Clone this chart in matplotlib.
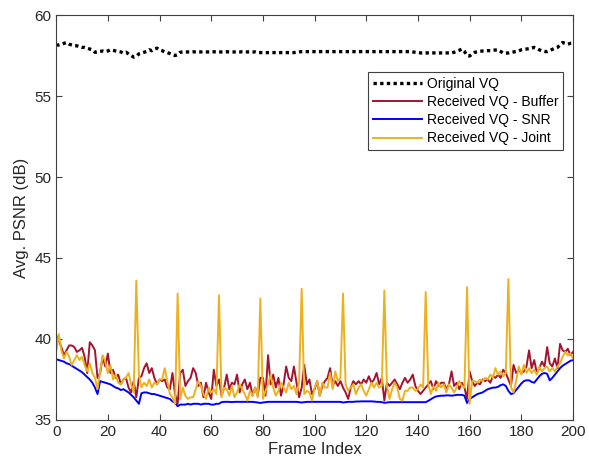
import numpy as np
import matplotlib
matplotlib.use("Agg")
import matplotlib.pyplot as plt

plt.rcParams['font.family'] = ['Liberation Sans', 'DejaVu Sans']

frames = np.arange(0, 201)

original_vq = [
    58.15, 58.15, 58.2, 58.25, 58.3, 58.2, 58.15, 58.1, 58.1, 58.05,
    58.0, 58.0, 57.95, 57.9, 57.85, 57.7, 57.72, 57.75, 57.78, 57.75,
    57.78, 57.85, 57.82, 57.78, 57.75, 57.72, 57.65, 57.7, 57.6, 57.5,
    57.4, 57.45, 57.6, 57.65, 57.7, 57.75, 57.85, 57.8, 57.9, 57.95,
    57.85, 57.8, 57.72, 57.68, 57.62, 57.55, 57.5, 57.55, 57.7, 57.72,
    57.72, 57.72, 57.72, 57.73, 57.72, 57.72, 57.72, 57.73, 57.72, 57.72,
    57.72, 57.73, 57.72, 57.72, 57.72, 57.72, 57.73, 57.72, 57.72, 57.72,
    57.72, 57.72, 57.73, 57.72, 57.72, 57.72, 57.72, 57.72, 57.68, 57.68,
    57.68, 57.67, 57.68, 57.68, 57.68, 57.68, 57.67, 57.68, 57.68, 57.68,
    57.68, 57.68, 57.68, 57.7, 57.72, 57.74, 57.74, 57.74, 57.74, 57.74,
    57.74, 57.74, 57.74, 57.74, 57.74, 57.74, 57.74, 57.74, 57.74, 57.74,
    57.74, 57.74, 57.74, 57.74, 57.74, 57.74, 57.74, 57.74, 57.74, 57.74,
    57.74, 57.74, 57.74, 57.74, 57.74, 57.74, 57.74, 57.74, 57.74, 57.74,
    57.74, 57.74, 57.74, 57.74, 57.74, 57.74, 57.74, 57.74, 57.72, 57.7,
    57.68, 57.66, 57.66, 57.66, 57.66, 57.66, 57.66, 57.66, 57.66, 57.66,
    57.66, 57.66, 57.66, 57.66, 57.7, 57.75, 57.82, 57.9, 57.75, 57.5,
    57.47, 57.6, 57.7, 57.72, 57.75, 57.78, 57.78, 57.8, 57.8, 57.82,
    57.84, 57.85, 57.75, 57.65, 57.64, 57.66, 57.7, 57.72, 57.75, 57.78,
    57.85, 57.88, 57.9, 57.92, 57.96, 58.0, 57.95, 57.85, 57.78, 57.75,
    57.74, 57.8, 57.88, 57.95, 58.0, 58.15, 58.3, 58.25, 58.2, 58.25,
    58.25,
]

received_buffer = [
    40.2, 39.9, 39.5, 39.0, 39.3, 39.6, 39.6, 39.5, 39.2, 39.3,
    39.45, 38.9, 37.9, 39.8, 39.6, 39.3, 37.6, 37.9, 38.9, 38.3,
    39.1, 37.9, 38.1, 37.6, 37.8, 37.2, 37.5, 37.6, 37.0, 36.7,
    37.4, 36.4, 37.6, 37.7, 38.2, 38.5, 37.9, 38.2, 37.6, 37.2,
    37.5, 37.4, 37.5, 37.0, 36.9, 37.9, 36.6, 36.0, 37.9, 38.1,
    37.1, 37.4, 37.6, 38.2, 37.9, 37.1, 37.3, 36.4, 37.3, 36.7,
    36.3, 38.1, 37.1, 37.5, 36.5, 37.0, 37.8, 36.9, 37.3, 37.2,
    37.8, 36.7, 37.2, 37.5, 36.9, 37.3, 36.5, 37.0, 36.5, 37.6,
    37.6, 36.5, 39.0, 37.2, 37.8, 37.0, 37.6, 36.5, 37.2, 38.3,
    37.6, 37.4, 38.3, 37.3, 36.4, 37.0, 38.4, 37.2, 37.5, 36.6,
    36.9, 37.4, 36.5, 37.1, 37.4, 37.6, 38.2, 37.1, 37.4, 37.1,
    37.4, 37.0, 36.7, 36.3, 37.0, 37.4, 37.2, 37.4, 37.2, 37.5,
    37.3, 37.7, 37.3, 37.5, 37.9, 37.2, 37.6, 36.2, 37.3, 37.1,
    37.3, 37.5, 37.2, 36.9, 37.3, 37.6, 37.3, 37.5, 37.8, 37.1,
    36.8, 36.6, 36.8, 37.0, 37.2, 37.4, 36.9, 37.4, 37.1, 37.3,
    37.3, 36.9, 37.2, 38.0, 37.1, 37.3, 36.9, 37.3, 37.0, 36.3,
    38.0, 37.4, 37.1, 37.3, 37.2, 37.5, 37.4, 37.5, 37.3, 37.7,
    37.6, 37.8, 37.6, 38.1, 37.9, 37.5, 37.1, 38.4, 37.9, 38.1,
    37.9, 38.0, 38.3, 39.3, 38.2, 38.7, 37.9, 38.2, 38.6, 38.3,
    39.5, 38.5, 38.3, 38.8, 38.2, 39.7, 39.3, 39.2, 39.4, 39.0,
    39.2,
]

received_snr = [
    38.75, 38.7, 38.65, 38.6, 38.5, 38.45, 38.35, 38.25, 38.15, 38.05,
    37.95, 37.8, 37.65, 37.5, 37.3, 37.0, 36.6, 37.4, 37.35, 37.3,
    37.25, 37.2, 37.1, 37.0, 36.95, 36.85, 36.9, 36.8, 36.7, 36.55,
    36.4, 36.2, 36.0, 36.65, 36.7, 36.7, 36.65, 36.6, 36.6, 36.55,
    36.5, 36.45, 36.4, 36.35, 36.3, 36.15, 36.05, 35.85, 35.95, 35.95,
    35.95, 36.0, 35.95, 36.0, 36.0, 36.0, 35.95, 36.0, 36.0, 36.0,
    35.95, 35.95, 36.0, 36.0, 36.1, 36.12, 36.12, 36.12, 36.1, 36.12,
    36.12, 36.12, 36.12, 36.12, 36.12, 36.12, 36.12, 36.1, 36.08, 36.05,
    36.08, 36.1, 36.12, 36.12, 36.12, 36.12, 36.12, 36.12, 36.12, 36.12,
    36.12, 36.12, 36.12, 36.12, 36.1, 36.08, 36.1, 36.12, 36.12, 36.12,
    36.12, 36.12, 36.12, 36.12, 36.12, 36.12, 36.12, 36.12, 36.12, 36.12,
    36.12, 36.08, 36.1, 36.12, 36.12, 36.12, 36.14, 36.14, 36.15, 36.15,
    36.15, 36.15, 36.15, 36.14, 36.12, 36.12, 36.1, 36.06, 36.08, 36.1,
    36.1, 36.1, 36.1, 36.1, 36.1, 36.1, 36.1, 36.1, 36.1, 36.1,
    36.1, 36.1, 36.1, 36.1, 36.18, 36.28, 36.38, 36.45, 36.48, 36.5,
    36.5, 36.52, 36.52, 36.5, 36.52, 36.55, 36.55, 36.55, 36.5, 36.05,
    36.3, 36.4, 36.5, 36.6, 36.65, 36.7, 36.8, 36.9, 36.95, 37.0,
    37.0, 37.05, 37.15, 37.2, 37.1, 36.8, 36.6, 36.65, 36.85, 37.05,
    37.25, 37.4, 37.45, 37.45, 37.35, 37.3, 37.5, 37.7, 37.85, 37.9,
    37.85, 37.45, 37.6, 37.8, 38.0, 38.2, 38.35, 38.45, 38.55, 38.65,
    38.7,
]

received_joint = [
    39.2, 40.3, 39.3, 38.8, 39.2, 38.9, 38.4, 38.7, 39.0, 38.7,
    38.9, 38.4, 38.0, 38.5, 37.9, 37.6, 36.9, 38.0, 39.0, 38.6,
    37.9, 38.4, 37.5, 37.8, 37.3, 37.2, 37.5, 37.6, 37.9, 37.2,
    36.7, 43.6, 37.8, 37.0, 37.3, 37.1, 37.5, 37.0, 37.3, 37.2,
    37.5, 37.5, 38.2, 37.4, 36.6, 36.4, 36.0, 42.8, 36.3, 37.0,
    36.5, 36.3, 36.4, 36.4, 36.9, 37.4, 37.1, 36.6, 36.3, 37.0,
    36.7, 36.9, 36.6, 42.7, 36.4, 37.0, 36.9, 36.5, 37.1, 36.4,
    36.7, 37.2, 36.9, 36.6, 36.2, 36.8, 36.5, 37.0, 36.4, 42.5,
    36.3, 36.8, 37.2, 37.8, 37.0, 36.5, 36.8, 37.3, 37.0, 36.7,
    37.3, 36.9, 37.1, 36.6, 37.3, 43.1, 36.6, 36.8, 36.7, 36.2,
    37.0, 37.4, 36.5, 37.3, 37.0, 37.0, 37.9, 36.9, 38.0, 37.4,
    37.6, 42.8, 37.2, 36.8, 37.0, 37.2, 36.6, 37.0, 37.2, 36.8,
    36.5, 36.9, 37.3, 37.0, 37.3, 37.0, 37.1, 43.0, 37.1, 36.3,
    36.9, 37.3, 37.0, 36.3, 36.2, 36.8, 36.8, 37.0, 37.0, 36.8,
    36.9, 37.2, 37.0, 42.9, 37.2, 36.6, 37.1, 36.8, 37.3, 37.0,
    37.2, 36.7, 37.2, 37.0, 36.7, 37.0, 37.4, 37.1, 37.0, 43.2,
    36.0, 37.4, 37.4, 37.3, 37.5, 37.4, 37.6, 37.5, 37.8, 37.6,
    38.2, 37.8, 38.0, 37.7, 37.9, 43.7, 37.0, 36.7, 37.4, 38.3,
    37.8, 38.4, 37.9, 38.2, 37.9, 38.1, 37.8, 38.3, 38.0, 38.2,
    38.3, 38.0, 38.2, 38.0, 38.3, 38.5, 38.9, 39.2, 39.0, 39.1,
    38.8,
]

fig = plt.figure(figsize=(5.89, 4.72), dpi=100)
ax = fig.add_axes([0.0954, 0.1102, 0.8774, 0.858])

ax.plot(frames, original_vq, color='black', lw=2.4, linestyle=(0, (1, 1)),
        label='Original VQ')
ax.plot(frames, received_buffer, color='#A2142F', lw=1.4,
        label='Received VQ - Buffer')
ax.plot(frames, received_snr, color='#0000FF', lw=1.4,
        label='Received VQ - SNR')
ax.plot(frames, received_joint, color='#EDB120', lw=1.4,
        label='Received VQ - Joint')

ax.set_xlim(0, 200)
ax.set_ylim(35, 60)
ax.set_xticks(np.arange(0, 201, 20))
ax.set_yticks(np.arange(35, 61, 5))
ax.tick_params(direction='in', top=True, right=True, length=4,
               labelsize=11, color='#404040', labelcolor='#262626')
for spine in ax.spines.values():
    spine.set_color('#404040')
    spine.set_linewidth(0.8)

ax.set_xlabel('Frame Index', fontsize=12, color='#262626', labelpad=2)
ax.set_ylabel('Avg. PSNR (dB)', fontsize=12, color='#262626', labelpad=4)

leg = ax.legend(loc='upper right', bbox_to_anchor=(0.981, 0.859),
                borderaxespad=0, fontsize=10, fancybox=False, framealpha=1,
                handlelength=3.5, handletextpad=0.35, labelspacing=0.3,
                borderpad=0.35)
leg.get_frame().set_edgecolor('#404040')
leg.get_frame().set_linewidth(0.8)

fig.savefig('out.png', dpi=100)
